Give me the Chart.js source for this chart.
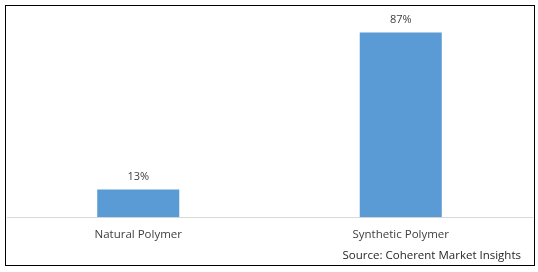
<!DOCTYPE html>
<html>
<head>
<meta charset="utf-8">
<script src="https://cdn.jsdelivr.net/npm/chart.js@4"></script>
<style>
  html, body { margin: 0; padding: 0; background: #fff; }
  #wrap { position: relative; width: 538px; height: 272px; }
  #chartShare { position: absolute; left: 0; top: 0; }
  #frame {
    position: absolute; left: 5px; top: 5px; width: 530px; height: 261px;
    box-sizing: border-box; border: 1px solid #000; pointer-events: none;
  }
</style>
</head>
<body>
<div id="wrap">
  <canvas id="chartShare" width="538" height="272"></canvas>
  <div id="frame"></div>
</div>
<script>
// datos del grafico
const categorias = ["Natural Polymer", "Synthetic Polymer"];
const porcentajes = [13, 87];
const fuente = "Source: Coherent Market Insights";

const fontFamily = "'Open Sans', 'DejaVu Sans', sans-serif";

/* etiquetas de valor encima de cada barra + texto de fuente */
const etiquetasValor = {
  id: "etiquetasValor",
  afterDatasetsDraw(chart) {
    const ctx = chart.ctx;
    const meta = chart.getDatasetMeta(0);
    ctx.save();
    ctx.font = "11px " + fontFamily;
    ctx.fillStyle = "#404040";
    ctx.textAlign = "center";
    ctx.textBaseline = "middle";
    meta.data.forEach((bar, i) => {
      ctx.fillText(porcentajes[i] + "%", bar.x, bar.y - 13);
    });

    // fuente abajo a la derecha
    ctx.font = "11.5px " + fontFamily;
    ctx.fillStyle = "#262626";
    ctx.textAlign = "right";
    ctx.fillText(fuente, chart.chartArea.right - 11, 256);
    ctx.restore();
  },
};

const context = document.getElementById("chartShare").getContext("2d");

const chartShare = new Chart(context, {
  type: "bar",
  data: {
    labels: categorias,
    datasets: [
      {
        label: "Share",
        data: porcentajes,
        backgroundColor: "#5B9BD5",
        barPercentage: 0.625,
        categoryPercentage: 0.5,
      },
    ],
  },
  options: {
    responsive: false,
    animation: false,
    layout: {
      padding: { left: 7, right: 6, top: 5, bottom: 27 },
    },
    plugins: {
      legend: { display: false },
      tooltip: { enabled: false },
      title: { display: false },
    },
    scales: {
      x: {
        grid: { display: false },
        border: { display: true, color: "#d9d9d9", width: 1 },
        ticks: {
          color: "#404040",
          font: { family: fontFamily, size: 11.5 },
          padding: 3,
        },
      },
      y: {
        display: false,
        min: 0,
        max: 100,
      },
    },
  },
  plugins: [etiquetasValor],
});
</script>
</body>
</html>
